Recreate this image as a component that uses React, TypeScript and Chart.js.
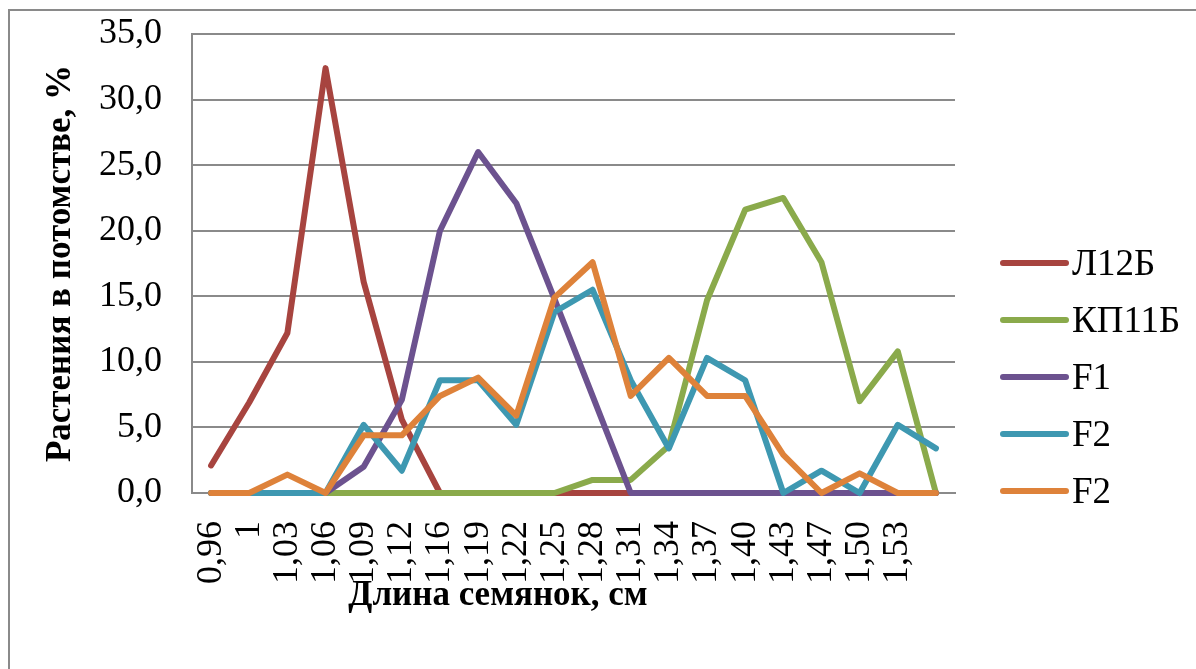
import React, { useEffect, useRef } from "react";
import { Chart, registerables } from "chart.js";

Chart.register(...registerables);

const categories = ["0,96", "1", "1,03", "1,06", "1,09", "1,12", "1,16", "1,19", "1,22", "1,25", "1,28", "1,31", "1,34", "1,37", "1,40", "1,43", "1,47", "1,50", "1,53", ""];
const seriesL12B = [2.1, 6.9, 12.2, 32.4, 16.1, 5.6, 0, 0, 0, 0, 0, 0, 0, 0, 0, 0, 0, 0, 0, 0];
const seriesKP11B = [0, 0, 0, 0, 0, 0, 0, 0, 0, 0, 1.0, 1.0, 3.6, 14.7, 21.6, 22.5, 17.6, 7.0, 10.8, 0];
const seriesF1 = [0, 0, 0, 0, 2.0, 7.1, 20.0, 26.0, 22.1, 14.8, 7.4, 0, 0, 0, 0, 0, 0, 0, 0, 0];
const seriesF2a = [0, 0, 0, 0, 5.2, 1.7, 8.6, 8.6, 5.2, 13.8, 15.5, 8.6, 3.4, 10.3, 8.6, 0, 1.7, 0, 5.2, 3.4];
const seriesF2b = [0, 0, 1.4, 0, 4.4, 4.4, 7.4, 8.8, 5.9, 14.9, 17.6, 7.4, 10.3, 7.4, 7.4, 2.9, 0, 1.5, 0, 0];
const seriesNames = ["Л12Б", "КП11Б", "F1", "F2", "F2"];
const seriesColors = ["#A7443F", "#8AAA4B", "#6C528F", "#3E98B1", "#DE823A"];
const yTitle = "Растения в потомстве, %";
const xTitle = "Длина семянок, см";

const SERIF = "'Liberation Serif', 'Times New Roman', serif";

const framePlugin = {
  id: "frame",
  beforeDraw(chart: any) {
    const ctx = chart.ctx;
    ctx.save();
    ctx.fillStyle = "#ffffff";
    ctx.fillRect(0, 0, chart.width, chart.height);
    ctx.strokeStyle = "#8a8a8a";
    ctx.lineWidth = 2;
    ctx.beginPath();
    ctx.moveTo(chart.width, 10);
    ctx.lineTo(9, 10);
    ctx.lineTo(9, chart.height);
    ctx.stroke();
    ctx.restore();
  },
};

const legendPlugin = {
  id: "customLegend",
  afterDraw(chart: any) {
    const ctx = chart.ctx;
    const ds = chart.data.datasets;
    ctx.save();
    // x axis title
    ctx.font = `bold 35px ${SERIF}`;
    ctx.fillStyle = "#000";
    ctx.textAlign = "center";
    ctx.textBaseline = "middle";
    ctx.fillText(xTitle, 498, 596);
    // legend
    ctx.font = `37px ${SERIF}`;
    ctx.textBaseline = "middle";
    ctx.textAlign = "left";
    const x0 = 1003;
    const x1 = 1066;
    const y0 = 263;
    const step = 57;
    ds.forEach((d: any, i: number) => {
      const y = y0 + i * step;
      ctx.strokeStyle = d.borderColor;
      ctx.lineWidth = 6;
      ctx.lineCap = "round";
      ctx.beginPath();
      ctx.moveTo(x0, y);
      ctx.lineTo(x1, y);
      ctx.stroke();
      ctx.fillStyle = "#000";
      ctx.fillText(d.label, x1 + 6, y + 2);
    });
    ctx.restore();
  },
};

export default function App() {
  const ref = useRef<HTMLCanvasElement | null>(null);
  useEffect(() => {
    if (!ref.current) return;
    const all = [seriesL12B, seriesKP11B, seriesF1, seriesF2a, seriesF2b];
    const chart = new Chart(ref.current, {
      type: "line",
      data: {
        labels: categories,
        datasets: all.map((d, i) => ({
          label: seriesNames[i],
          data: d,
          borderColor: seriesColors[i],
          backgroundColor: seriesColors[i],
          borderWidth: 6,
          pointRadius: 0,
          tension: 0,
          borderJoinStyle: "round" as const,
          borderCapStyle: "round" as const,
          clip: false as any,
          order: all.length - i,
        })),
      },
      options: {
        animation: false,
        responsive: false,
        maintainAspectRatio: false,
        layout: { padding: { left: 0, right: 241, top: 34, bottom: 0 } },
        plugins: { legend: { display: false }, tooltip: { enabled: false } },
        scales: {
          x: {
            type: "category",
            offset: true,
            grid: { display: false, drawTicks: false },
            border: { display: true, color: "#8a8a8a", width: 2 },
            ticks: {
              autoSkip: false,
              maxRotation: 90,
              minRotation: 90,
              padding: 28,
              color: "#000",
              font: { family: SERIF, size: 36 },
            },
            afterFit(scale: any) {
              scale.height = 176;
              scale.paddingLeft = 0;
              scale.paddingRight = 0;
            },
          },
          y: {
            min: 0,
            max: 35,
            ticks: {
              stepSize: 5,
              padding: 30,
              color: "#000",
              font: { family: SERIF, size: 36 },
              callback: (v: any) => Number(v).toFixed(1).replace(".", ","),
            },
            grid: { color: "#8a8a8a", lineWidth: 2, drawTicks: false },
            border: { display: true, color: "#8a8a8a", width: 2 },
            title: {
              display: true,
              text: yTitle,
              color: "#000",
              font: { family: SERIF, size: 35, weight: "bold" },
              padding: { top: 40, bottom: 0 },
            },
            afterFit(scale: any) {
              scale.width = 192;
              scale.paddingTop = 0;
              scale.paddingBottom = 0;
            },
          },
        },
      },
      plugins: [framePlugin, legendPlugin],
    });
    return () => chart.destroy();
  }, []);
  return (
    <div style={{ position: "fixed", left: 0, top: 0, width: 1196, height: 669 }}>
      <canvas ref={ref} width={1196} height={669} style={{ width: 1196, height: 669, display: "block" }} />
    </div>
  );
}
